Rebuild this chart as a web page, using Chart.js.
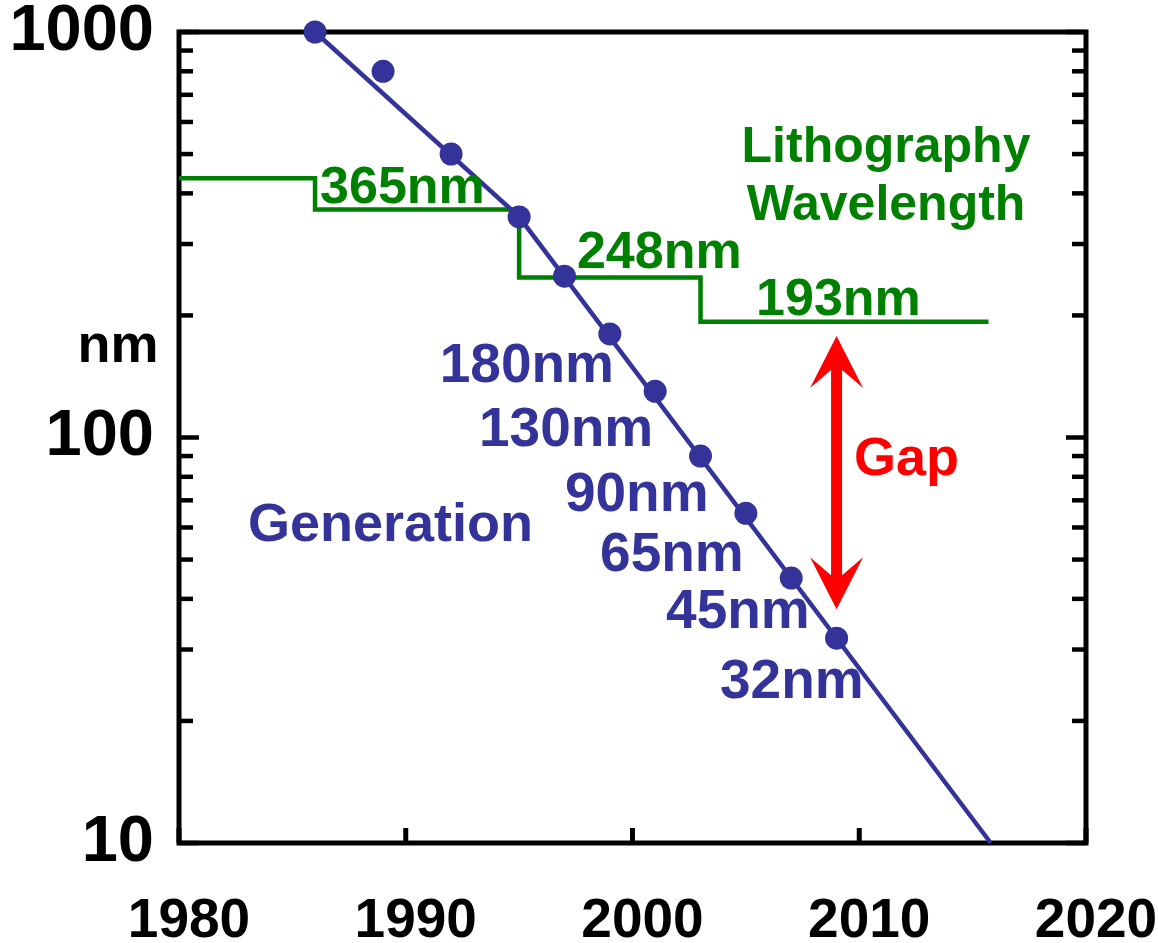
<!DOCTYPE html>
<html>
<head>
<meta charset="utf-8">
<script src="https://cdn.jsdelivr.net/npm/chart.js@4/dist/chart.umd.min.js"></script>
<style>
  html, body { margin: 0; padding: 0; background: #ffffff; }
  #wrap { width: 1158px; height: 943px; }
</style>
</head>
<body>
<div id="wrap"><canvas id="chart" width="1158" height="943"></canvas></div>
<script>
// Process generation (technology node) by year of introduction, in nm
const genYears = [1986, 1989, 1992, 1995, 1997, 1999, 2001, 2003, 2005, 2007, 2009];
const genNodes = [1000, 800, 500, 350, 250, 180, 130, 90, 65, 45, 32];

// Scaling trend line; the pace picks up after 1995
const trendYears = [1986, 1995, 2015.8];
const trendNodes = [1000, 350, 10];

// Lithography exposure wavelength in nm (step changes)
const lithoYears = [1980, 1986, 1995, 2003, 2015.7];
const lithoWaves = [436, 365, 248, 193, 193];

// Axis ticks
const yearTicks = [1980, 1990, 2000, 2010, 2020];
const nmMajorTicks = [10, 100, 1000];
const nmMinorTicks = [20, 30, 40, 50, 60, 70, 80, 90, 200, 300, 400, 500, 600, 700, 800, 900];

const FONT = "'Liberation Sans', Arial, Helvetica, sans-serif";
const BLUE = '#333399';
const GREEN = '#008000';
const RED = '#ff0000';

// Text annotations anchored in data space (year, nm) at the text's left baseline
const nodeLabels = [
  { text: '180nm', year: 1991.5, nm: 137.0 },
  { text: '130nm', year: 1993.23, nm: 95.3 },
  { text: '90nm', year: 1997.02, nm: 65.9 },
  { text: '65nm', year: 1998.57, nm: 46.9 },
  { text: '45nm', year: 2001.48, nm: 33.9 },
  { text: '32nm', year: 2003.86, nm: 22.8 }
];
const waveLabels = [
  { text: '365nm', year: 1986.22, nm: 378.7 },
  { text: '248nm', year: 1997.55, nm: 261.8 },
  { text: '193nm', year: 2005.45, nm: 200.5 }
];

const toPoints = (xs, ys) => xs.map((x, i) => ({ x: x, y: ys[i] }));

// Keep the plot box fixed: the large tick labels may overhang it
const fixScale = (s, prop, size) => {
  s[prop] = size;
  s.paddingTop = 0; s.paddingBottom = 0; s.paddingLeft = 0; s.paddingRight = 0;
};

// Plot frame with inward tick marks
const framePlugin = {
  id: 'frame',
  beforeDatasetsDraw(chart) {
    const { ctx, chartArea: a, scales: { x, y } } = chart;
    const seg = (x1, y1, x2, y2) => { ctx.beginPath(); ctx.moveTo(x1, y1); ctx.lineTo(x2, y2); ctx.stroke(); };
    ctx.save();
    ctx.strokeStyle = '#000';
    ctx.lineCap = 'butt';
    ctx.lineWidth = 4.5;
    nmMinorTicks.forEach(v => {
      const py = y.getPixelForValue(v);
      seg(a.left, py, a.left + 14, py);
      seg(a.right - 14, py, a.right, py);
    });
    nmMajorTicks.forEach(v => {
      const py = y.getPixelForValue(v);
      seg(a.left, py, a.left + 20, py);
      seg(a.right - 20, py, a.right, py);
    });
    ctx.lineWidth = 5;
    yearTicks.forEach(v => {
      const px = x.getPixelForValue(v);
      seg(px, a.bottom, px, a.bottom - 15);
    });
    ctx.lineJoin = 'miter';
    ctx.lineWidth = 5;
    ctx.strokeRect(a.left, a.top, a.right - a.left, a.bottom - a.top);
    ctx.restore();
  }
};

// Labels, axis unit and the red "Gap" arrow
const annotationPlugin = {
  id: 'notes',
  afterDatasetsDraw(chart) {
    const { ctx, scales: { x, y } } = chart;
    ctx.save();
    ctx.textBaseline = 'alphabetic';

    ctx.textAlign = 'left';
    ctx.fillStyle = BLUE;
    ctx.font = `bold 55px ${FONT}`;
    nodeLabels.forEach(l => ctx.fillText(l.text, x.getPixelForValue(l.year), y.getPixelForValue(l.nm)));
    ctx.font = `bold 54px ${FONT}`;
    ctx.fillText('Generation', x.getPixelForValue(1983.04), y.getPixelForValue(55.5));

    ctx.fillStyle = GREEN;
    ctx.font = `bold 52px ${FONT}`;
    waveLabels.forEach(l => ctx.fillText(l.text, x.getPixelForValue(l.year), y.getPixelForValue(l.nm)));
    ctx.textAlign = 'center';
    ctx.font = `bold 50px ${FONT}`;
    ctx.fillText('Lithography', x.getPixelForValue(2011.18), y.getPixelForValue(477.9));
    ctx.fillText('Wavelength', x.getPixelForValue(2011.18), y.getPixelForValue(343.9));

    // Gap arrow between the 193nm wavelength and the 32nm node
    const ax = x.getPixelForValue(2009);
    const top = y.getPixelForValue(178);
    const bot = y.getPixelForValue(37.7);
    const hw = 26.5, hl = 52, notch = 34, sw = 5.5;
    ctx.fillStyle = RED;
    ctx.beginPath();
    ctx.moveTo(ax, top);
    ctx.lineTo(ax + hw, top + hl);
    ctx.lineTo(ax + sw, top + notch);
    ctx.lineTo(ax + sw, bot - notch);
    ctx.lineTo(ax + hw, bot - hl);
    ctx.lineTo(ax, bot);
    ctx.lineTo(ax - hw, bot - hl);
    ctx.lineTo(ax - sw, bot - notch);
    ctx.lineTo(ax - sw, top + notch);
    ctx.lineTo(ax - hw, top + hl);
    ctx.closePath();
    ctx.fill();

    ctx.textAlign = 'left';
    ctx.font = `bold 54px ${FONT}`;
    ctx.fillText('Gap', x.getPixelForValue(2009.77), y.getPixelForValue(80.8));

    // axis unit, drawn horizontally beside the y scale
    ctx.fillStyle = '#000';
    ctx.textAlign = 'center';
    ctx.font = `bold 54px ${FONT}`;
    ctx.fillText('nm', y.left + 118, y.getPixelForValue(153.5));
    ctx.restore();
  }
};

new Chart(document.getElementById('chart'), {
  type: 'scatter',
  data: {
    datasets: [
      {
        label: 'Generation',
        data: toPoints(genYears, genNodes),
        showLine: false,
        pointRadius: 11.5,
        pointHoverRadius: 11.5,
        pointBackgroundColor: BLUE,
        pointBorderWidth: 0,
        clip: false
      },
      {
        label: 'Trend',
        data: toPoints(trendYears, trendNodes),
        showLine: true,
        borderColor: BLUE,
        borderWidth: 4.5,
        pointRadius: 0,
        fill: false,
        clip: false
      },
      {
        label: 'Lithography Wavelength',
        data: toPoints(lithoYears, lithoWaves),
        showLine: true,
        stepped: 'before',
        borderColor: GREEN,
        borderWidth: 4.5,
        pointRadius: 0,
        fill: false,
        clip: false
      }
    ]
  },
  options: {
    responsive: false,
    animation: false,
    devicePixelRatio: 1,
    layout: { padding: { top: 32, right: 72, bottom: 0, left: 0 } },
    plugins: { legend: { display: false }, tooltip: { enabled: false } },
    events: [],
    scales: {
      x: {
        type: 'linear',
        position: 'bottom',
        min: 1980,
        max: 2020,
        afterBuildTicks: s => { s.ticks = yearTicks.map(v => ({ value: v })); },
        grid: { display: false, drawTicks: false },
        border: { display: false },
        ticks: {
          callback: v => String(v),
          color: '#000',
          font: { family: FONT, size: 55, weight: 'bold', lineHeight: 1.2 },
          padding: 46,
          labelOffset: 10,
          maxRotation: 0,
          autoSkip: false
        },
        afterFit: s => fixScale(s, 'height', 100)
      },
      y: {
        type: 'logarithmic',
        position: 'left',
        min: 10,
        max: 1000,
        afterBuildTicks: s => { s.ticks = nmMajorTicks.map(v => ({ value: v })); },
        grid: { display: false, drawTicks: false },
        border: { display: false },
        ticks: {
          callback: v => String(v),
          color: '#000',
          font: { family: FONT, size: 65, weight: 'bold', lineHeight: 0.8 },
          padding: 25,
          autoSkip: false
        },
        afterFit: s => fixScale(s, 'width', 179)
      }
    }
  },
  plugins: [framePlugin, annotationPlugin]
});
</script>
</body>
</html>
